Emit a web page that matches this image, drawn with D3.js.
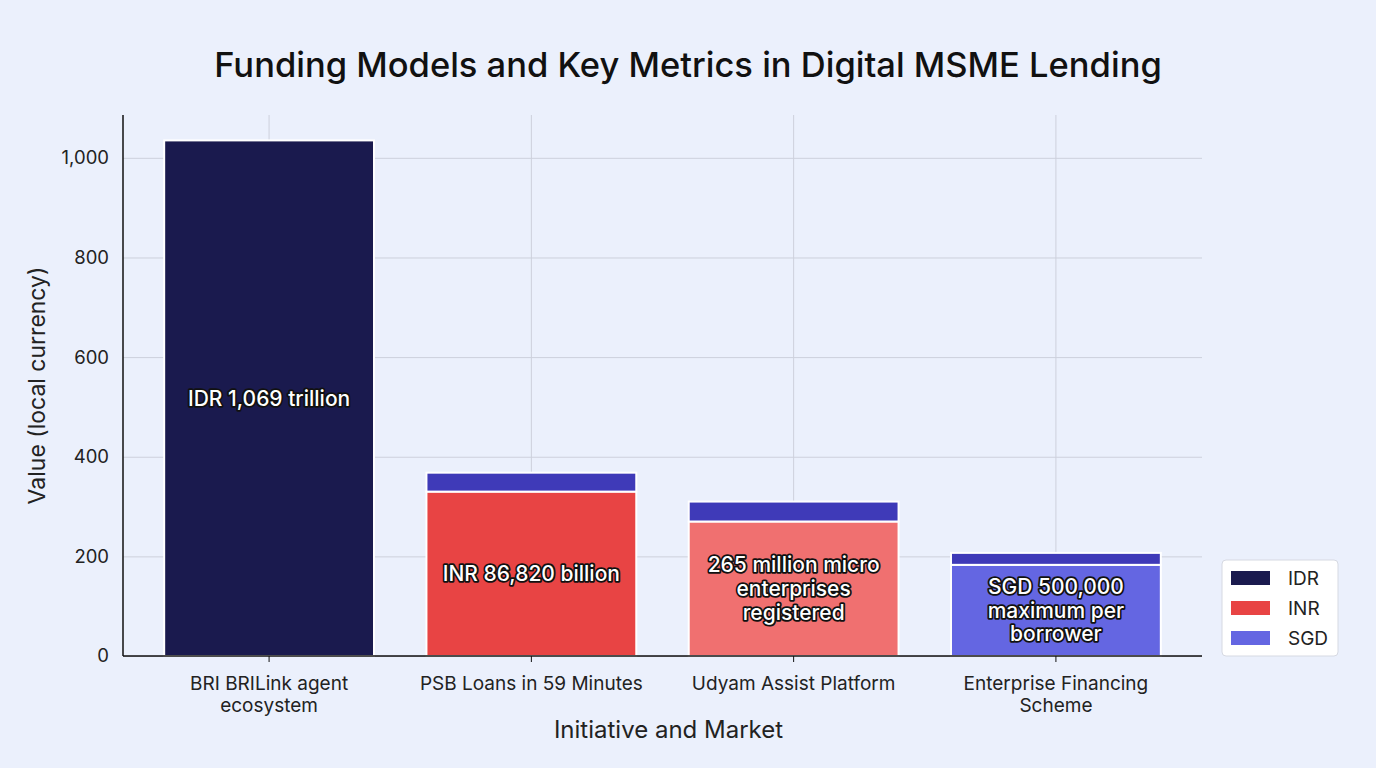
<!DOCTYPE html>
<html>
<head>
<meta charset="utf-8">
<script src="https://cdn.jsdelivr.net/npm/d3@7"></script>
<style>
  html, body { margin: 0; padding: 0; background: #ebf0fc; }
  body { font-family: Inter, "Noto Sans", sans-serif; }
  .grid line { stroke: #cdd0dc; stroke-width: 1; }
  .grid path { display: none; }
  .axis text { font-family: Inter, "Noto Sans", sans-serif; font-size: 18.5px; fill: #222; }
  .axis.x text { font-size: 19px; }
  .axis path, .axis line { stroke: #111; }
  .bar-label { font-size: 21px; font-weight: 500; fill: #fff; stroke: #111; stroke-width: 3.5px; paint-order: stroke; stroke-linejoin: round; }
</style>
</head>
<body>
<div id="vis"></div>
<script>
// Chart data
var categories = ['BRI BRILink agent ecosystem', 'PSB Loans in 59 Minutes', 'Udyam Assist Platform', 'Enterprise Financing Scheme'];
var tickLines = [['BRI BRILink agent', 'ecosystem'], ['PSB Loans in 59 Minutes'], ['Udyam Assist Platform'], ['Enterprise Financing', 'Scheme']];
var currencies = ['IDR', 'INR', 'INR', 'SGD'];
var baseValues = [1035, 330, 270, 183];
var topValues = [0, 38, 40, 24];
var barLabels = [['IDR 1,069 trillion'], ['INR 86,820 billion'], ['265 million micro', 'enterprises', 'registered'], ['SGD 500,000', 'maximum per', 'borrower']];
var legendKeys = ['IDR', 'INR', 'SGD'];
var yTicks = [0, 200, 400, 600, 800, 1000];

// Colours
var barColors = ['#1a1a4e', '#e84444', '#f07070', '#6466e2'];
var topColor = '#3f3ab8';
var legendColors = { IDR: '#1a1a4e', INR: '#e84444', SGD: '#6466e2' };

var width = 1376, height = 768;
var margin = { left: 123, right: 174, top: 115, bottom: 112 };
var drawWidth = width - margin.left - margin.right;
var drawHeight = height - margin.top - margin.bottom;

var svg = d3.select('#vis').append('svg')
    .attr('width', width)
    .attr('height', height);

svg.append('rect').attr('width', width).attr('height', height).attr('fill', '#ebf0fc');

// Title
svg.append('text')
    .attr('x', 688).attr('y', 77)
    .attr('text-anchor', 'middle')
    .style('font-size', '34.5px')
    .style('font-weight', 500)
    .style('fill', '#111')
    .text('Funding Models and Key Metrics in Digital MSME Lending');

var g = svg.append('g')
    .attr('transform', 'translate(' + margin.left + ',' + margin.top + ')');

var xScale = d3.scaleBand()
    .domain(categories)
    .range([0, drawWidth])
    .paddingInner(0.2)
    .paddingOuter(0.157);

var yScale = d3.scaleLinear()
    .domain([0, 1086])
    .range([drawHeight, 0]);

// Grid lines
g.append('g').attr('class', 'grid')
    .call(d3.axisLeft(yScale).tickValues(yTicks).tickSize(-drawWidth).tickFormat(''));
g.append('g').attr('class', 'grid')
    .call(d3.axisBottom(xScale).tickSize(drawHeight).tickFormat(''));

// Bars: base segment
var rows = categories.map(function(c, i) {
    return { cat: c, base: baseValues[i], top: topValues[i], color: barColors[i], label: barLabels[i] };
});

g.selectAll('rect.base').data(rows).enter().append('rect')
    .attr('class', 'base')
    .attr('x', function(d) { return xScale(d.cat); })
    .attr('y', function(d) { return yScale(d.base); })
    .attr('width', xScale.bandwidth())
    .attr('height', function(d) { return yScale(0) - yScale(d.base); })
    .attr('fill', function(d) { return d.color; })
    .attr('stroke', '#fff')
    .attr('stroke-width', 2);

// Bars: top segment
g.selectAll('rect.top').data(rows.filter(function(d) { return d.top > 0; })).enter().append('rect')
    .attr('class', 'top')
    .attr('x', function(d) { return xScale(d.cat); })
    .attr('y', function(d) { return yScale(d.base + d.top); })
    .attr('width', xScale.bandwidth())
    .attr('height', function(d) { return yScale(d.base) - yScale(d.base + d.top); })
    .attr('fill', topColor)
    .attr('stroke', '#fff')
    .attr('stroke-width', 2);

// Axes
var yAxisG = g.append('g').attr('class', 'axis')
    .call(d3.axisLeft(yScale).tickValues(yTicks).tickSize(0).tickPadding(14).tickFormat(d3.format(',')));
yAxisG.select('.domain').attr('d', 'M0,0V' + drawHeight).attr('stroke-width', 1.5);

var xAxisG = g.append('g').attr('class', 'axis x')
    .attr('transform', 'translate(0,' + drawHeight + ')')
    .call(d3.axisBottom(xScale).tickSize(6).tickPadding(15));
xAxisG.select('.domain').attr('d', 'M0,0H' + drawWidth).attr('stroke-width', 1.5);
xAxisG.selectAll('.tick text').each(function(d, i) {
    var t = d3.select(this).text(null);
    tickLines[i].forEach(function(line, j) {
        t.append('tspan').attr('x', 0).attr('dy', j === 0 ? '0.71em' : '1.12em').text(line);
    });
});

// Bar labels
g.selectAll('text.bar-label').data(rows).enter().append('text')
    .attr('class', 'bar-label')
    .attr('text-anchor', 'middle')
    .attr('x', function(d) { return xScale(d.cat) + xScale.bandwidth() / 2; })
    .attr('y', function(d) { return (yScale(d.base) + yScale(0)) / 2; })
    .each(function(d) {
        var t = d3.select(this);
        var n = d.label.length;
        d.label.forEach(function(line, j) {
            t.append('tspan')
                .attr('x', xScale(d.cat) + xScale.bandwidth() / 2)
                .attr('dy', j === 0 ? ((-(n - 1) * 1.13 / 2) + 0.35) + 'em' : '1.13em')
                .text(line);
        });
    });

// Axis titles
svg.append('text')
    .attr('transform', 'translate(' + 45 + ',' + (margin.top + drawHeight / 2) + ') rotate(-90)')
    .attr('text-anchor', 'middle')
    .style('font-size', '23px')
    .style('fill', '#222')
    .text('Value (local currency)');

svg.append('text')
    .attr('x', margin.left + drawWidth / 2 + 6)
    .attr('y', 738)
    .attr('text-anchor', 'middle')
    .style('font-size', '24px')
    .style('fill', '#222')
    .text('Initiative and Market');

// Legend
var legend = svg.append('g').attr('transform', 'translate(1222,560)');
legend.append('rect')
    .attr('width', 116).attr('height', 96).attr('rx', 4)
    .attr('fill', '#fff').attr('stroke', '#d6d9e2');
legendKeys.forEach(function(k, i) {
    legend.append('rect')
        .attr('x', 9).attr('y', 11 + i * 30)
        .attr('width', 39).attr('height', 14)
        .attr('fill', legendColors[k]);
    legend.append('text')
        .attr('x', 66).attr('y', 18 + i * 30).attr('dy', '0.35em')
        .style('font-size', '19px').style('fill', '#222')
        .text(k);
});
</script>
</body>
</html>
